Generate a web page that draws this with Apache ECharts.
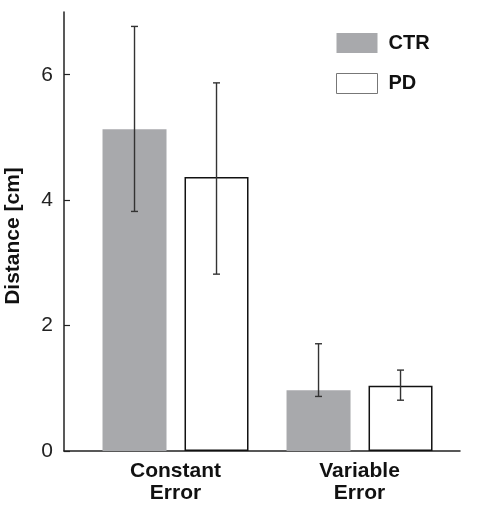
<!DOCTYPE html>
<html>
<head>
<meta charset="utf-8">
<script src="https://cdn.jsdelivr.net/npm/echarts@6/dist/echarts.min.js"></script>
<style>html,body{margin:0;padding:0;background:#fff}#c{width:490px;height:507px}</style>
</head>
<body>
<div id="c"></div>
<script>
const categories = ['Constant\nError', 'Variable\nError'];
const ctrValues = [5.13, 0.97];
const ctrLow = [3.82, 0.87];
const ctrHigh = [6.77, 1.71];
const pdValues = [4.37, 1.04];
const pdLow = [2.82, 0.81];
const pdHigh = [5.87, 1.29];
const yTicks = [0, 2, 4, 6];

const BAR_W = 64, BAR_GAP = 18;
const OFF = (BAR_W + BAR_GAP) / 2;
const FONT = '"Liberation Sans", Arial, Helvetica, sans-serif';

function errSeries(name, low, high, dir) {
  return {
    name: name + '_err', type: 'custom', z: 10, silent: true,
    data: categories.map((c, i) => [i + 1, low[i], high[i]]),
    encode: { x: 0, y: [1, 2] },
    renderItem: function (params, api) {
      const x = api.value(0);
      const lo = api.coord([x, api.value(1)]);
      const hi = api.coord([x, api.value(2)]);
      const cx = lo[0] + dir * OFF;
      const hw = 3.5;
      const st = { stroke: '#333', lineWidth: 1.4 };
      return { type: 'group', children: [
        { type: 'line', shape: { x1: cx, y1: hi[1], x2: cx, y2: lo[1] }, style: st },
        { type: 'line', shape: { x1: cx - hw, y1: hi[1], x2: cx + hw, y2: hi[1] }, style: st },
        { type: 'line', shape: { x1: cx - hw, y1: lo[1], x2: cx + hw, y2: lo[1] }, style: st }
      ]};
    }
  };
}

const chart = echarts.init(document.getElementById('c'), null, { renderer: 'canvas' });
chart.setOption({
  animation: false,
  backgroundColor: '#fff',
  grid: { left: 64, right: 30, top: 12, bottom: 56, containLabel: false, outerBoundsMode: 'none' },
  legend: {
    orient: 'vertical', left: 331, top: 28,
    itemWidth: 41, itemHeight: 20, itemGap: 20,
    icon: 'rect',
    data: [
      { name: 'CTR', itemStyle: { color: '#a8a9ac', borderWidth: 0 } },
      { name: 'PD', itemStyle: { color: '#fff', borderColor: '#777', borderWidth: 1 } }
    ],
    textStyle: { fontFamily: FONT, fontWeight: 'bold', fontSize: 20, color: '#111', padding: [0, 0, 0, 6] }
  },
  xAxis: {
    type: 'value', min: 0.394, max: 2.546,
    axisLine: { show: true, lineStyle: { color: '#222', width: 1.5 } },
    axisTick: { show: false },
    splitLine: { show: false },
    axisLabel: {
      customValues: categories.map((c, i) => i + 1),
      formatter: v => categories[Math.round(v) - 1] || '',
      fontFamily: FONT, fontWeight: 'bold', fontSize: 21, color: '#111',
      lineHeight: 22, margin: 9
    }
  },
  yAxis: {
    type: 'value', min: 0, max: 7,
    name: 'Distance [cm]', nameLocation: 'middle', nameGap: 40,
    nameTextStyle: { fontFamily: FONT, fontWeight: 'bold', fontSize: 21, color: '#111', padding: [0, 9, 0, 0] },
    axisLine: { show: true, lineStyle: { color: '#222', width: 1.5 } },
    axisTick: { show: true, inside: true, length: 6, customValues: yTicks, lineStyle: { color: '#222', width: 1.2 } },
    splitLine: { show: false },
    axisLabel: { customValues: yTicks, fontFamily: FONT, fontSize: 21, color: '#222', margin: 11 }
  },
  series: [
    { name: 'CTR', type: 'bar', barWidth: BAR_W, barGap: (BAR_GAP / BAR_W * 100) + '%',
      itemStyle: { color: '#a8a9ac' },
      data: categories.map((c, i) => [i + 1, ctrValues[i]]) },
    { name: 'PD', type: 'bar', barWidth: BAR_W,
      itemStyle: { color: '#fff', borderColor: '#111', borderWidth: 1.5 },
      data: categories.map((c, i) => [i + 1, pdValues[i]]) },
    errSeries('CTR', ctrLow, ctrHigh, -1),
    errSeries('PD', pdLow, pdHigh, 1)
  ]
});
</script>
</body>
</html>
